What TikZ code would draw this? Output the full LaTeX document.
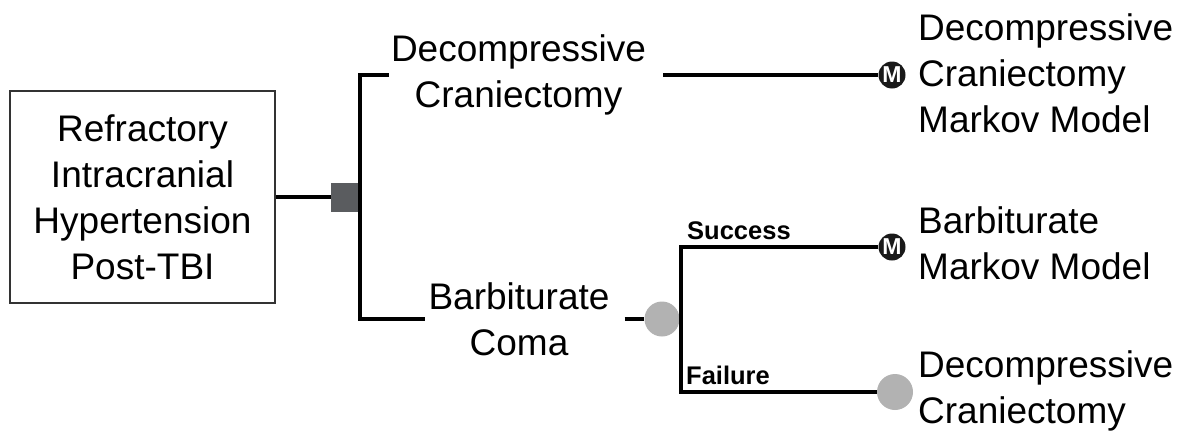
\documentclass[tikz,border=0pt]{standalone}
\usepackage{fontspec}
\setmainfont{Liberation Sans}
\begin{document}
\begin{tikzpicture}[x=1pt,y=-1pt,
  every node/.style={text=black},
  bigtext/.style={font=\fontsize{37}{46}\selectfont},
  edgelbl/.style={font=\fontsize{25.5}{30}\selectfont\bfseries, inner sep=0pt, anchor=base west},
  branch/.style={line width=4.5pt, black},
  rootbox/.style={draw=black!80, line width=1.5pt, fill=white, minimum width=265pt, minimum height=212pt, align=center, bigtext},
  decision/.style={rectangle, fill={rgb,255:red,90;green,92;blue,95}, minimum size=29pt, inner sep=0pt},
  chance/.style={circle, fill={rgb,255:red,178;green,178;blue,178}, inner sep=0pt},
  markov/.style={circle, fill={rgb,255:red,25;green,25;blue,25}, text=white, minimum size=27pt, inner sep=0pt, font=\fontsize{23}{23}\selectfont\bfseries},
  outcome/.style={align=left, anchor=west, inner sep=0pt, bigtext},
  choice/.style={align=center, bigtext, inner ysep=0pt}
]
\useasboundingbox (0,0) rectangle (1192,434);

% root problem and decision node
\node[rootbox] (root) at (142.5,197) {Refractory\\Intracranial\\Hypertension\\Post-TBI};
\node[decision] (dec) at (345.5,197) {};

% the two strategies
\node[choice, inner xsep=2pt] (dc) at (518.5,75) {Decompressive\\Craniectomy};
\node[choice, inner xsep=3pt] (bc) at (519,319) {Barbiturate\\Coma};

% chance node after barbiturate coma
\node[chance, minimum size=35pt] (ch) at (662,319) {};

% terminal nodes
\node[markov] (m1) at (892,75) {M};
\node[markov] (m2) at (892,247) {M};
\node[chance, minimum size=36pt] (t3) at (895,392) {};

% outcome texts
\node[outcome] (o1) at (918,73) {Decompressive\\Craniectomy\\Markov Model};
\node[outcome] (o2) at (918,243) {Barbiturate\\Markov Model};
\node[outcome] (o3) at (918,391) {Decompressive\\Craniectomy};

% connectors
\draw[branch] (root.east) -- (dec.west);
\draw[branch] (dc.west) -| (dec.east) |- (bc.west);
\draw[branch, shorten <=15pt] (dc.east) -- (m1.west);
\draw[branch, shorten <=12pt] (bc.east) -- (ch.west);
\draw[branch] (m2.west) -| ([xshift=1.5pt]ch.east) |- (t3.west);

% branch labels
\node[edgelbl] (succ) at (687,239) {Success};
\node[edgelbl] (fail) at (686,384) {Failure};
\end{tikzpicture}
\end{document}
